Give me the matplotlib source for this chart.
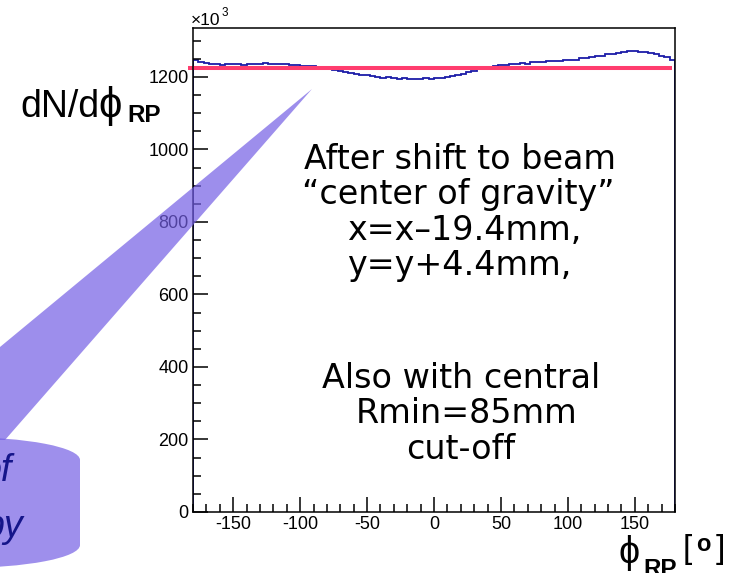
import numpy as np
import matplotlib
matplotlib.use('Agg')
import matplotlib.pyplot as plt
from matplotlib.patches import Polygon, Rectangle, Ellipse
from matplotlib.ticker import MultipleLocator

W, H = 740, 573

# dN/dphi contents in units of 10^3, 4 degree bins from -180 to 180
counts = [1247, 1240, 1238, 1235, 1236, 1234, 1237, 1235, 1236, 1234,
          1235, 1237, 1236, 1238, 1236, 1237, 1235, 1236, 1233, 1234,
          1231, 1229, 1230, 1227, 1225, 1222, 1219, 1216, 1214, 1211,
          1209, 1206, 1205, 1202, 1201, 1198, 1199, 1196, 1195, 1196,
          1194, 1195, 1195, 1196, 1195, 1197, 1198, 1201, 1203, 1206,
          1209, 1213, 1217, 1221, 1225, 1228, 1230, 1233, 1232, 1235,
          1236, 1238, 1237, 1240, 1241, 1240, 1243, 1244, 1243, 1246,
          1248, 1247, 1251, 1253, 1255, 1258, 1259, 1262, 1264, 1266,
          1268, 1271, 1272, 1270, 1268, 1266, 1262, 1258, 1254, 1247]
edges = np.linspace(-180, 180, len(counts) + 1)
flat_level = 1225

xticks = [-150, -100, -50, 0, 50, 100, 150]
yticks = [0, 200, 400, 600, 800, 1000, 1200]

note_lines = ['After shift to beam', '\u201ccenter of gravity\u201d',
              'x=x\u201319.4mm,', 'y=y+4.4mm,',
              'Also with central', 'Rmin=85mm', 'cut-off']
# (x centre, baseline) of each line in pixels from top-left
note_pos = [(460, 169), (458, 204), (464, 240), (459, 275),
            (461, 388), (467, 423), (461, 459)]

root_font = ['Liberation Sans', 'DejaVu Sans']
plt.rcParams['font.family'] = root_font
plt.rcParams['axes.unicode_minus'] = False


def fx(x):
    return x / W


def fy(y):
    return 1 - y / H


fig = plt.figure(figsize=(W / 100, H / 100), dpi=100)
ax = fig.add_axes([fx(193), fy(512), (675 - 193) / W, (512 - 28) / H])

ax.stairs(counts, edges, color='#1c1ca8', lw=1.3)
ax.plot([-184, 178], [flat_level, flat_level], color='#ff3d6e', lw=2.9,
        clip_on=False, solid_capstyle='butt')

ax.set_xlim(-180, 180)
ax.set_ylim(0, 1335)
ax.set_xticks(xticks)
ax.set_yticks(yticks)
ax.xaxis.set_minor_locator(MultipleLocator(10))
ax.yaxis.set_minor_locator(MultipleLocator(50))
ax.tick_params(which='both', direction='in', top=False, right=False,
               labelsize=13, pad=3, width=1.1, color='black')
ax.tick_params(which='major', length=11)
ax.tick_params(which='minor', length=5.8)
for s in ax.spines.values():
    s.set_linewidth(1.1)

# x10^3 multiplier
fig.text(fx(191), fy(25), '\u00d710', fontsize=12.5, va='baseline')
fig.text(fx(222), fy(16), '3', fontsize=8.5, va='baseline')

# axis titles
fig.text(fx(20), fy(117), 'dN/d', fontsize=27, va='baseline')
fig.text(fx(98), fy(117), '\u03d5', fontsize=30, va='baseline')
fig.text(fx(127), fy(122), 'RP', fontsize=17.5, fontweight='bold', va='baseline')
fig.text(fx(619), fy(563), '\u03d5', fontsize=27, va='baseline')
fig.text(fx(643), fy(576), 'RP', fontsize=17.5, fontweight='bold', va='baseline')
fig.text(fx(683), fy(558), '[', fontsize=24, va='baseline')
fig.text(fx(696), fy(551), 'o', fontsize=17, fontweight='bold', va='baseline')
fig.text(fx(716), fy(558), ']', fontsize=24, va='baseline')

# callout wedge and cylinder
wedge = [(0, 347), (312, 89), (5, 440), (0, 440)]
fig.add_artist(Polygon([(fx(x), fy(y)) for x, y in wedge], closed=True,
                       transform=fig.transFigure, facecolor='#745fe4',
                       edgecolor='none', alpha=0.7, zorder=2))
cyl = '#9e8fec'
fig.add_artist(Rectangle((fx(-160), fy(545)), 240 / W, 85 / H,
                         transform=fig.transFigure, facecolor=cyl,
                         edgecolor='none', zorder=1))
fig.add_artist(Ellipse((fx(-40), fy(545)), 240 / W, 46 / H,
                       transform=fig.transFigure, facecolor=cyl,
                       edgecolor='none', zorder=1))
fig.add_artist(Ellipse((fx(-40), fy(460)), 240 / W, 46 / H,
                       transform=fig.transFigure, facecolor=cyl,
                       edgecolor='none', zorder=1))
fig.text(fx(12), fy(481), 'of', fontsize=27, style='italic', color='#15158a',
         ha='right', va='baseline', zorder=3)
fig.text(fx(24), fy(537), 'py', fontsize=27, style='italic', color='#15158a',
         ha='right', va='baseline', zorder=3)

for line, (x, y) in zip(note_lines, note_pos):
    fig.text(fx(x), fy(y), line, fontsize=24, family='DejaVu Sans',
             ha='center', va='baseline', zorder=3)

fig.savefig('out.png', dpi=100)
